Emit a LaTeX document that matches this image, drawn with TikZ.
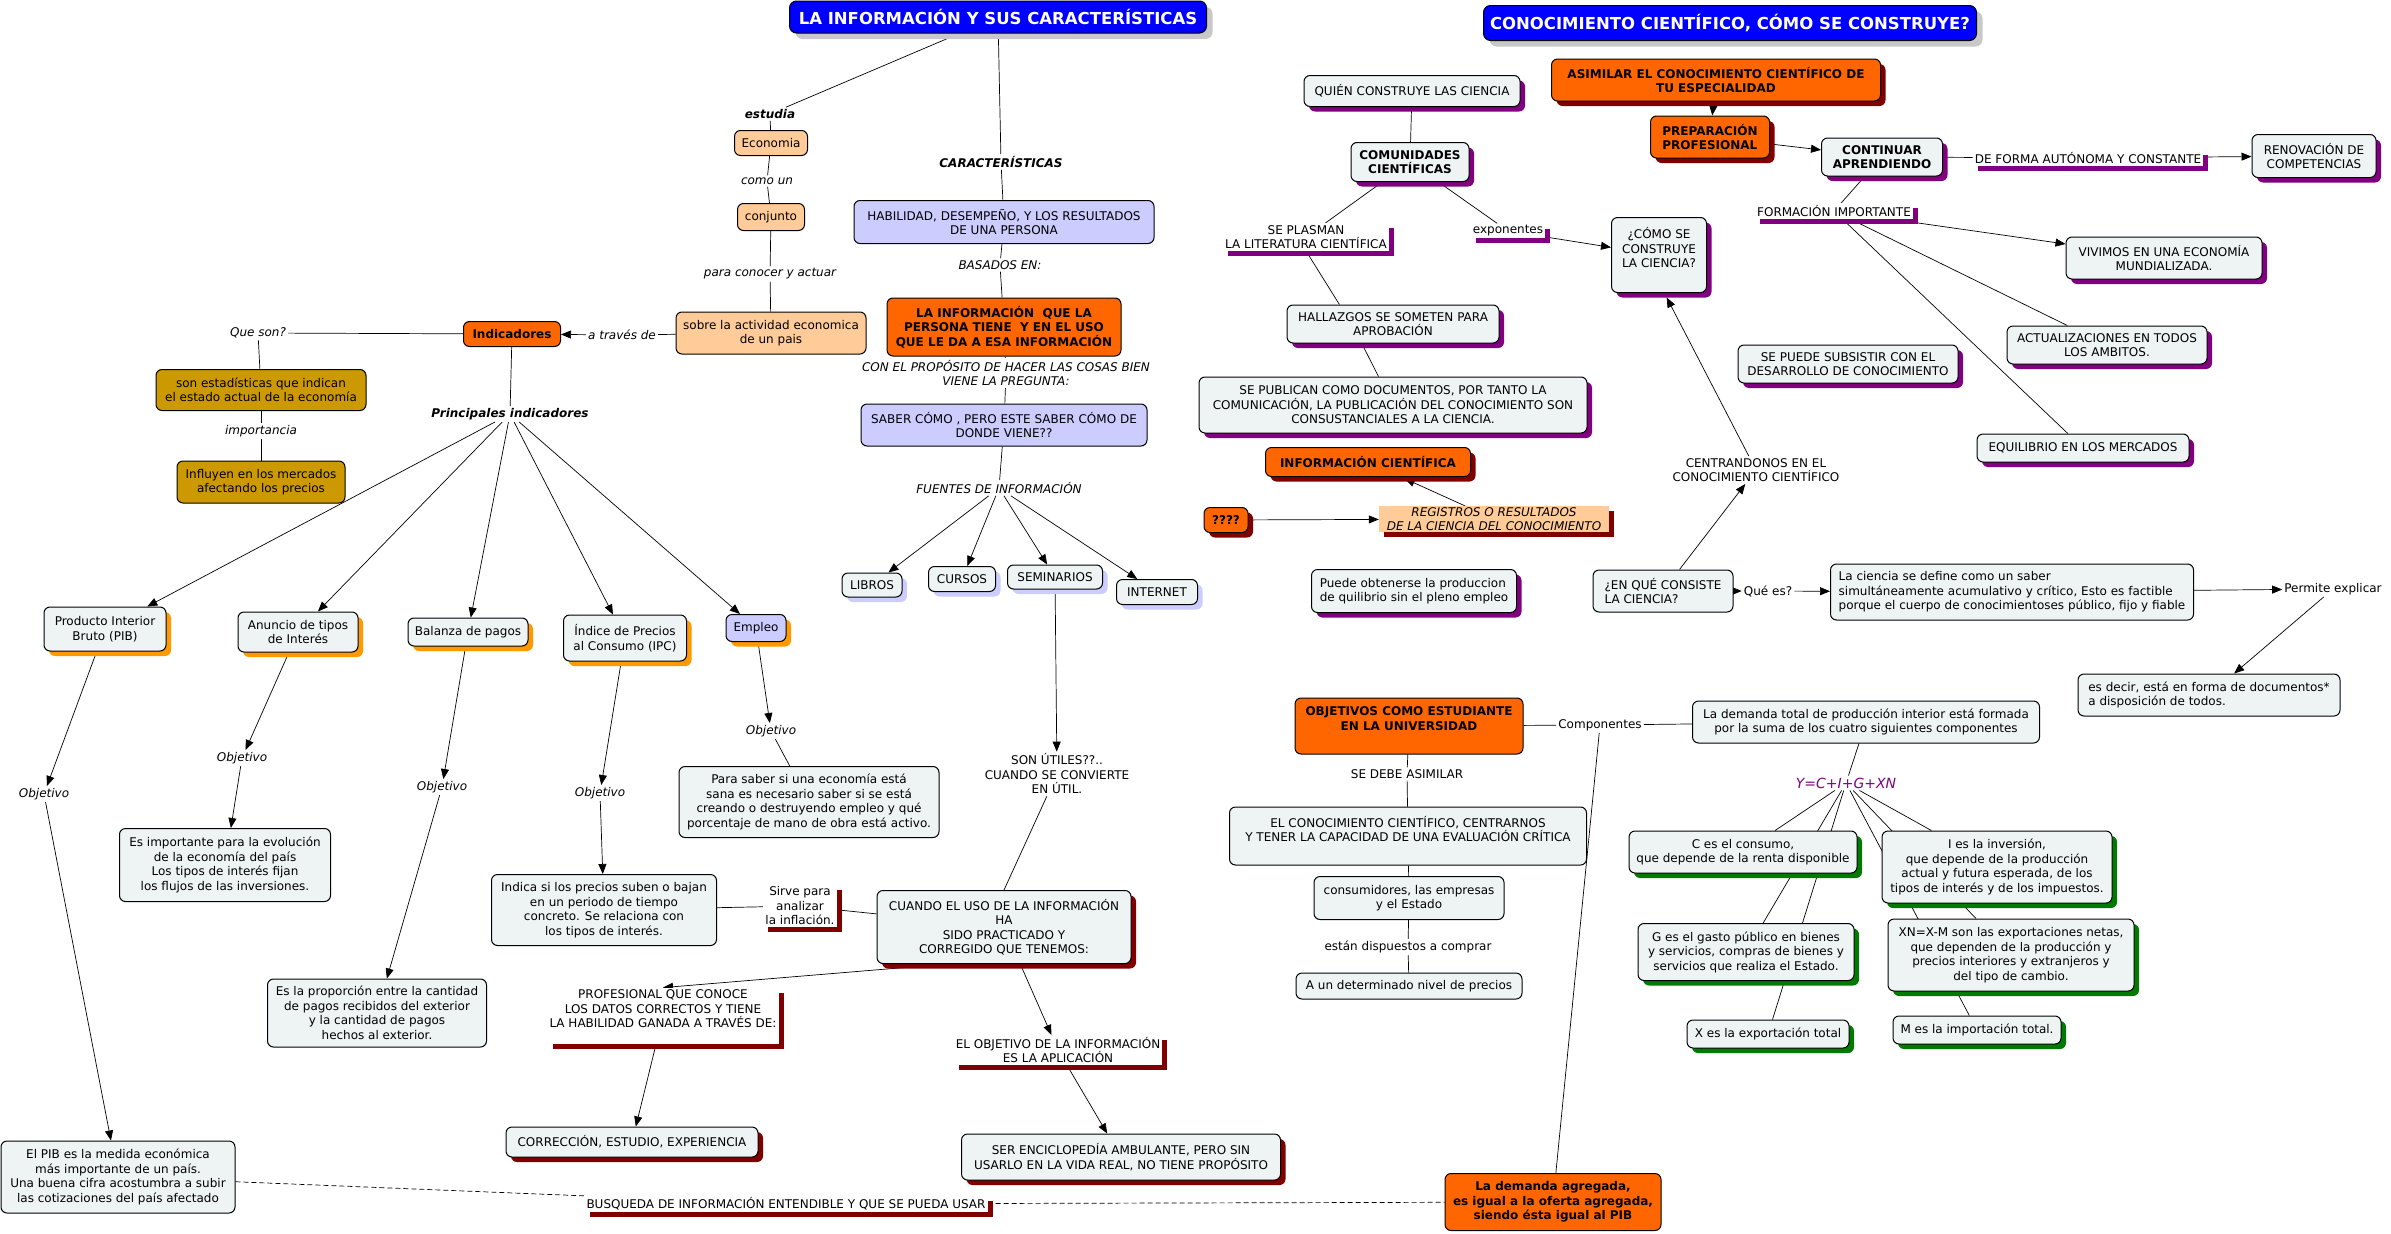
\documentclass[tikz,border=0pt]{standalone}
\usepackage{fontspec}
\setmainfont{DejaVu Sans}
\usepackage{xcolor}
\usetikzlibrary{arrows.meta, shadows, backgrounds}

\definecolor{boxfill}{HTML}{EEF3F4}
\definecolor{peachfill}{HTML}{FFCC99}
\definecolor{lavfill}{HTML}{CCCCFF}
\definecolor{goldfill}{HTML}{CC9900}
\definecolor{hotfill}{HTML}{FF6600}
\definecolor{titleblue}{HTML}{0000FF}
\definecolor{titleshade}{HTML}{C8C8C8}
\definecolor{shadeorange}{HTML}{FF9900}
\definecolor{shadepurple}{HTML}{800080}
\definecolor{shadered}{HTML}{800000}
\definecolor{shadegreen}{HTML}{007A00}
\definecolor{ypurple}{HTML}{800080}

\newcommand{\cms}{\fontsize{12}{14.5}\selectfont}
\newcommand{\tts}{\fontsize{16.5}{19}\selectfont}

\tikzset{
  box/.style={draw=black, line width=1pt, rounded corners=6pt, align=center, inner sep=3pt, font=\cms},
  pale/.style={box, fill=boxfill},
  peach/.style={box, fill=peachfill},
  lav/.style={box, fill=lavfill},
  gold/.style={box, fill=goldfill},
  hot/.style={box, fill=hotfill, font=\cms\bfseries},
  titlebox/.style={draw=black, line width=1pt, rounded corners=7pt, fill=titleblue, text=white, font=\tts\bfseries,
    drop shadow={shadow xshift=6pt, shadow yshift=-6pt, fill=titleshade, opacity=1}},
  oshade/.style={drop shadow={shadow xshift=5pt, shadow yshift=-5pt, fill=shadeorange, opacity=1}},
  pshade/.style={drop shadow={shadow xshift=5pt, shadow yshift=-5pt, fill=shadepurple, opacity=1}},
  rshade/.style={drop shadow={shadow xshift=5pt, shadow yshift=-5pt, fill=shadered, opacity=1}},
  gshade/.style={drop shadow={shadow xshift=5pt, shadow yshift=-5pt, fill=shadegreen, opacity=1}},
  lshade/.style={drop shadow={shadow xshift=5pt, shadow yshift=-5pt, fill=lavfill, opacity=1}},
  phrase/.style={align=center, inner sep=2pt, font=\cms},
  iphrase/.style={phrase, font=\cms\itshape},
  bphrase/.style={phrase, font=\cms\bfseries\itshape},
  ulphrase/.style={phrase, fill=white, drop shadow={shadow xshift=5pt, shadow yshift=-5pt, fill=#1, opacity=1}},
  link/.style={draw=black, line width=0.7pt},
  arr/.style={link, -{Triangle[length=10pt, width=8pt]}},
  dlink/.style={link, dash pattern=on 5pt off 3pt},
}

\begin{document}
\begin{tikzpicture}[x=1pt, y=-1pt]
    \useasboundingbox (0,0) rectangle (2391,1234);

    % 1. Títulos
    \node[titlebox, minimum width=417pt, minimum height=32pt] (tinfo) at (998,17) {LA INFORMACIÓN Y SUS CARACTERÍSTICAS};
    \node[titlebox, minimum width=493pt, minimum height=35pt] (tcono) at (1730,23) {CONOCIMIENTO CIENTÍFICO, CÓMO SE CONSTRUYE?};

    % 2. Rama de la economía
    \node[bphrase] (estudia) at (770,114) {estudia};
    \node[peach, minimum width=73pt, minimum height=25pt] (economia) at (771,143) {Economia};
    \node[iphrase] (comoun) at (767,181) {como un};
    \node[peach, minimum width=67pt, minimum height=27pt] (conjunto) at (771,217) {conjunto};
    \node[iphrase] (paraconocer) at (770,274) {para conocer y actuar};
    \node[peach, minimum width=190pt, minimum height=42pt] (sobre) at (771,333) {sobre la actividad economica\\de un pais};
    \node[iphrase] (atraves) at (622,335) {a través de};
    \node[hot, minimum width=97pt, minimum height=25pt] (indic) at (512,334) {Indicadores};
    \node[iphrase] (queson) at (258,333) {Que son?};
    \node[gold, minimum width=210pt, minimum height=41pt] (sonest) at (261,390) {son estadísticas que indican\\el estado actual de la economía};
    \node[iphrase] (import) at (261,431) {importancia};
    \node[gold, minimum width=168pt, minimum height=42pt] (influyen) at (261,482) {Influyen en los mercados\\afectando los precios};
    \node[bphrase] (princ) at (510,414) {Principales indicadores};

    % 3. Indicadores y objetivos
    \node[pale, oshade, minimum width=122pt, minimum height=44pt] (pib) at (105,629) {Producto Interior\\Bruto (PIB)};
    \node[pale, oshade, minimum width=120pt, minimum height=40pt] (anuncio) at (298,632) {Anuncio de tipos\\de Interés};
    \node[pale, oshade, minimum width=120pt, minimum height=28pt] (balanza) at (468,632) {Balanza de pagos};
    \node[pale, oshade, minimum width=123pt, minimum height=46pt] (ipc) at (625,638) {Índice de Precios\\al Consumo (IPC)};
    \node[lav, oshade, minimum width=60pt, minimum height=27pt] (empleo) at (756,628) {Empleo};
    \node[iphrase] (objpib) at (44,794) {Objetivo};
    \node[iphrase] (objanu) at (242,758) {Objetivo};
    \node[iphrase] (objbal) at (442,787) {Objetivo};
    \node[iphrase] (objipc) at (600,793) {Objetivo};
    \node[iphrase] (objemp) at (771,731) {Objetivo};
    \node[pale, minimum width=234pt, minimum height=72pt] (espib) at (118,1177) {El PIB es la medida económica\\más importante de un país.\\Una buena cifra acostumbra a subir\\las cotizaciones del país afectado};
    \node[pale, minimum width=211pt, minimum height=73pt] (esimp) at (225,865) {Es importante para la evolución\\de la economía del país\\Los tipos de interés fijan\\los flujos de las inversiones.};
    \node[pale, minimum width=219pt, minimum height=68pt] (esprop) at (377,1013) {Es la proporción entre la cantidad\\de pagos recibidos del exterior\\y la cantidad de pagos\\hechos al exterior.};
    \node[pale, minimum width=225pt, minimum height=71pt] (indica) at (604,910) {Indica si los precios suben o bajan\\en un periodo de tiempo\\concreto. Se relaciona con\\los tipos de interés.};
    \node[pale, minimum width=260pt, minimum height=71pt] (parasaber) at (809,802) {Para saber si una economía está\\sana es necesario saber si se está\\creando o destruyendo empleo y qué\\porcentaje de mano de obra está activo.};

    % 4. Características de la información
    \node[bphrase] (caract) at (1001,162) {CARACTERÍSTICAS};
    \node[lav, minimum width=300pt, minimum height=43pt] (habil) at (1004,222) {HABILIDAD, DESEMPEÑO, Y LOS RESULTADOS\\DE UNA PERSONA};
    \node[iphrase] (basados) at (1000,265) {BASADOS EN:};
    \node[hot, minimum width=234pt, minimum height=58pt] (lainfo) at (1004,327) {LA INFORMACIÓN\ \ QUE LA\\PERSONA TIENE\ \ Y EN EL USO\\QUE LE DA A ESA INFORMACIÓN};
    \node[iphrase] (proposito) at (1006,373) {CON EL PROPÓSITO DE HACER LAS COSAS BIEN\\VIENE LA PREGUNTA:};
    \node[lav, minimum width=286pt, minimum height=42pt] (saber) at (1004,425) {SABER CÓMO , PERO ESTE SABER CÓMO DE\\DONDE VIENE??};
    \node[iphrase] (fuentes) at (999,488) {FUENTES DE INFORMACIÓN};
    \node[pale, lshade, minimum width=60pt, minimum height=24pt] (libros) at (872,585) {LIBROS};
    \node[pale, lshade, minimum width=67pt, minimum height=25pt] (cursos) at (962,579) {CURSOS};
    \node[pale, lshade, minimum width=95pt, minimum height=24pt] (semin) at (1055,577) {SEMINARIOS};
    \node[pale, lshade, minimum width=81pt, minimum height=25pt] (internet) at (1157,592) {INTERNET};
    \node[phrase] (utiles) at (1057,774) {SON ÚTILES??..\\CUANDO SE CONVIERTE\\EN ÚTIL.};
    \node[pale, rshade, minimum width=254pt, minimum height=73pt] (cuando) at (1004,927) {CUANDO EL USO DE LA INFORMACIÓN\\HA\\SIDO PRACTICADO Y\\CORREGIDO QUE TENEMOS:};
    \node[ulphrase=shadered] (sirve) at (800,906) {Sirve para\\analizar\\la inflación.};
    \node[ulphrase=shadered] (prof) at (663,1016) {PROFESIONAL QUE CONOCE\\LOS DATOS CORRECTOS Y TIENE\\LA HABILIDAD GANADA A TRAVÉS DE:\\\mbox{}};
    \node[pale, rshade, minimum width=252pt, minimum height=30pt] (correc) at (632,1142) {CORRECCIÓN, ESTUDIO, EXPERIENCIA};
    \node[ulphrase=shadered] (elobj) at (1058,1050) {EL OBJETIVO DE LA INFORMACIÓN\\ES LA APLICACIÓN};
    \node[pale, rshade, minimum width=319pt, minimum height=46pt] (ser) at (1121,1157) {SER ENCICLOPEDÍA AMBULANTE, PERO SIN\\USARLO EN LA VIDA REAL, NO TIENE PROPÓSITO};
    \node[ulphrase=shadered] (busq) at (786,1204) {BUSQUEDA DE INFORMACIÓN ENTENDIBLE Y QUE SE PUEDA USAR};

    % 5. Cómo se construye la ciencia
    \node[pale, pshade, minimum width=216pt, minimum height=31pt] (quien) at (1412,91) {QUIÉN CONSTRUYE LAS CIENCIA};
    \node[pale, pshade, font=\cms\bfseries, minimum width=118pt, minimum height=39pt] (comun) at (1410,162) {COMUNIDADES\\CIENTÍFICAS};
    \node[ulphrase=shadepurple] (plasman) at (1306,237) {SE PLASMAN\\LA LITERATURA CIENTÍFICA};
    \node[ulphrase=shadepurple] (expon) at (1508,231) {exponentes};
    \node[pale, pshade, minimum width=95pt, minimum height=75pt] (comose) at (1659,255) {¿CÓMO SE\\CONSTRUYE\\LA CIENCIA?\\\mbox{}};
    \node[pale, pshade, minimum width=212pt, minimum height=38pt] (hall) at (1393,324) {HALLAZGOS SE SOMETEN PARA\\APROBACIÓN};
    \node[pale, pshade, minimum width=388pt, minimum height=56pt] (publican) at (1393,405) {SE PUBLICAN COMO DOCUMENTOS, POR TANTO LA\\COMUNICACIÓN, LA PUBLICACIÓN DEL CONOCIMIENTO SON\\CONSUSTANCIALES A LA CIENCIA.};
    \node[hot, rshade, minimum width=205pt, minimum height=29pt] (infocien) at (1368,462) {INFORMACIÓN CIENTÍFICA};
    \node[hot, rshade, minimum width=44pt, minimum height=25pt] (interrog) at (1226,520) {????};
    \node[ulphrase=shadered, fill=peachfill, font=\cms\itshape, inner sep=1pt, minimum width=230pt] (registros) at (1494,519) {REGISTROS O RESULTADOS\\DE LA CIENCIA DEL CONOCIMIENTO};
    \node[pale, pshade, align=left, minimum width=205pt, minimum height=43pt] (puede) at (1414,591) {Puede obtenerse la produccion\\de quilibrio sin el pleno empleo};
    \node[pale, align=left, minimum width=140pt, minimum height=42pt] (enque) at (1663,591) {¿EN QUÉ CONSISTE\\LA CIENCIA?};
    \node[phrase] (centr) at (1756,470) {CENTRANDONOS EN EL\\CONOCIMIENTO CIENTÍFICO};
    \node[phrase] (quees) at (1768,591) {Qué es?};
    \node[pale, align=left, minimum width=363pt, minimum height=56pt] (ciencia) at (2012,592) {La ciencia se define como un saber\\simultáneamente acumulativo y crítico, Esto es factible\\porque el cuerpo de conocimientoses público, fijo y fiable};
    \node[phrase] (permite) at (2333,589) {Permite explicar};
    \node[pale, align=left, minimum width=262pt, minimum height=42pt] (esdecir) at (2209,695) {es decir, está en forma de documentos*\\a disposición de todos.};

    % 6. Preparación profesional
    \node[hot, rshade, minimum width=329pt, minimum height=42pt] (asimilar) at (1716,80) {ASIMILAR EL CONOCIMIENTO CIENTÍFICO DE\\TU ESPECIALIDAD};
    \node[hot, rshade, align=left, minimum width=119pt, minimum height=42pt] (prepar) at (1710,137) {PREPARACIÓN\\PROFESIONAL};
    \node[pale, pshade, font=\cms\bfseries, minimum width=121pt, minimum height=38pt] (contin) at (1882,157) {CONTINUAR\\APRENDIENDO};
    \node[ulphrase=shadepurple] (deforma) at (2088,158) {DE FORMA AUTÓNOMA Y CONSTANTE};
    \node[pale, pshade, minimum width=124pt, minimum height=43pt] (renov) at (2314,156) {RENOVACIÓN DE\\COMPETENCIAS};
    \node[ulphrase=shadepurple] (formac) at (1834,211) {FORMACIÓN IMPORTANTE};
    \node[pale, pshade, minimum width=196pt, minimum height=42pt] (vivimos) at (2164,258) {VIVIMOS EN UNA ECONOMÍA\\MUNDIALIZADA.};
    \node[pale, pshade, minimum width=200pt, minimum height=38pt] (actual) at (2107,345) {ACTUALIZACIONES EN TODOS\\LOS AMBITOS.};
    \node[pale, pshade, minimum width=220pt, minimum height=38pt] (subsist) at (1848,364) {SE PUEDE SUBSISTIR CON EL\\DESARROLLO DE CONOCIMIENTO};
    \node[pale, pshade, minimum width=212pt, minimum height=28pt] (equil) at (2083,448) {EQUILIBRIO EN LOS MERCADOS};

    % 7. Objetivos y demanda agregada
    \node[hot, minimum width=228pt, minimum height=56pt] (objest) at (1409,726) {OBJETIVOS COMO ESTUDIANTE\\EN LA UNIVERSIDAD\\\mbox{}};
    \node[phrase] (debeasim) at (1407,774) {SE DEBE ASIMILAR};
    \node[pale, minimum width=357pt, minimum height=58pt] (elcono) at (1408,836) {EL CONOCIMIENTO CIENTÍFICO, CENTRARNOS\\Y TENER LA CAPACIDAD DE UNA EVALUACIÓN CRÍTICA\\\mbox{}};
    \node[pale, minimum width=190pt, minimum height=43pt] (consum) at (1409,898) {consumidores, las empresas\\y el Estado};
    \node[phrase] (dispuestos) at (1408,947) {están dispuestos a comprar};
    \node[pale, minimum width=226pt, minimum height=26pt] (nivel) at (1409,986) {A un determinado nivel de precios};
    \node[phrase] (compon) at (1600,725) {Componentes};
    \node[pale, minimum width=347pt, minimum height=42pt] (demtotal) at (1866,722) {La demanda total de producción interior está formada\\por la suma de los cuatro siguientes componentes};
    \node[iphrase, text=ypurple, font=\fontsize{14}{16}\selectfont\itshape] (ylab) at (1846,783) {Y=C+I+G+XN};
    \node[pale, gshade, minimum width=228pt, minimum height=42pt] (cbox) at (1743,852) {C es el consumo,\\que depende de la renta disponible};
    \node[pale, gshade, minimum width=230pt, minimum height=72pt] (ibox) at (1997,867) {I es la inversión,\\que depende de la producción\\actual y futura esperada, de los\\tipos de interés y de los impuestos.};
    \node[pale, gshade, minimum width=216pt, minimum height=57pt] (gbox) at (1746,952) {G es el gasto público en bienes\\y servicios, compras de bienes y\\servicios que realiza el Estado.};
    \node[pale, gshade, minimum width=246pt, minimum height=72pt] (xnbox) at (2011,955) {XN=X-M son las exportaciones netas,\\que dependen de la producción y\\precios interiores y extranjeros y\\del tipo de cambio.};
    \node[pale, gshade, minimum width=162pt, minimum height=28pt] (xbox) at (1768,1034) {X es la exportación total};
    \node[pale, gshade, minimum width=168pt, minimum height=28pt] (mbox) at (1977,1030) {M es la importación total.};
    \node[hot, minimum width=216pt, minimum height=57pt] (demagr) at (1553,1202) {La demanda agregada,\\es igual a la oferta agregada,\\siendo ésta igual al PIB};

    % 8. Conectores (debajo de las cajas)
    \begin{scope}[on background layer]
        \fill[white] (0,0) rectangle (2391,1234);
        % economía
        \draw[link] (tinfo) -- (estudia);
        \draw[link] (estudia) -- (economia);
        \draw[link] (economia) -- (comoun);
        \draw[link] (comoun) -- (conjunto);
        \draw[link] (conjunto) -- (paraconocer);
        \draw[link] (paraconocer) -- (sobre);
        \draw[link] (sobre) -- (atraves);
        \draw[arr] (atraves) -- (indic);
        \draw[link] (indic) -- (queson);
        \draw[link] (queson) -- (sonest);
        \draw[link] (sonest) -- (import);
        \draw[link] (import) -- (influyen);
        \draw[link] (indic) -- (princ);
        \foreach \dst in {pib, anuncio, balanza, ipc, empleo}
            \draw[arr] (princ) -- (\dst);
        \foreach \src/\mid/\dst in {pib/objpib/espib, anuncio/objanu/esimp, balanza/objbal/esprop, ipc/objipc/indica} {
            \draw[arr] (\src) -- (\mid);
            \draw[arr] (\mid) -- (\dst);
        }
        \draw[arr] (empleo) -- (objemp);
        \draw[link] (objemp) -- (parasaber);
        % información
        \draw[link] (tinfo) -- (caract);
        \draw[link] (caract) -- (habil);
        \draw[link] (habil) -- (basados);
        \draw[link] (basados) -- (lainfo);
        \draw[link] (lainfo) -- (proposito);
        \draw[link] (proposito) -- (saber);
        \draw[link] (saber) -- (fuentes);
        \foreach \dst in {libros, cursos, semin, internet}
            \draw[arr] (fuentes) -- (\dst);
        \draw[arr] (semin) -- (utiles);
        \draw[link] (utiles) -- (cuando.north);
        \draw[link] (indica) -- (sirve);
        \draw[link] (sirve) -- (cuando);
        \draw[arr] (cuando.213) -- (prof.north);
        \draw[arr] (prof) -- (correc);
        \draw[arr] (cuando) -- (elobj);
        \draw[arr] (elobj) -- (ser);
        \draw[dlink] (espib) -- (busq);
        \draw[dlink] (busq) -- (demagr);
        % ciencia
        \draw[link] (quien) -- (comun);
        \draw[link] (comun) -- (plasman);
        \draw[link] (comun) -- (expon);
        \draw[arr] (expon) -- (comose);
        \draw[link] (plasman.south) -- (hall.160);
        \draw[link] (hall.212) -- (publican.117);
        \draw[arr] (interrog) -- (registros);
        \draw[arr, shorten >=4pt] (registros) -- (infocien);
        \draw[arr] (enque) -- (centr);
        \draw[arr, shorten >=5pt] (centr) -- (comose.-82);
        \draw[arr] (enque) -- (quees);
        \draw[arr] (quees) -- (ciencia);
        \draw[arr] (ciencia) -- (permite);
        \draw[arr] (permite) -- (esdecir);
        % preparación
        \draw[arr] (asimilar) -- (prepar);
        \draw[arr] (prepar) -- (contin);
        \draw[link] (contin) -- (deforma);
        \draw[arr] (deforma) -- (renov);
        \draw[link] (contin) -- (formac);
        \draw[arr] (formac) -- (vivimos);
        \draw[link] (formac) -- (actual);
        \draw[link] (formac) -- (equil);
        % objetivos
        \draw[link] (objest) -- (debeasim);
        \draw[link] (debeasim) -- (elcono);
        \draw[link] (elcono) -- (consum);
        \draw[link] (consum) -- (dispuestos);
        \draw[link] (dispuestos) -- (nivel);
        \draw[link] (objest) -- (compon);
        \draw[link] (compon) -- (demtotal);
        \draw[link] (compon) -- (demagr);
        \draw[link] (demtotal) -- (ylab);
        \foreach \dst in {cbox, gbox, xbox, ibox, xnbox, mbox}
            \draw[link] (ylab) -- (\dst);
    \end{scope}
\end{tikzpicture}
\end{document}
